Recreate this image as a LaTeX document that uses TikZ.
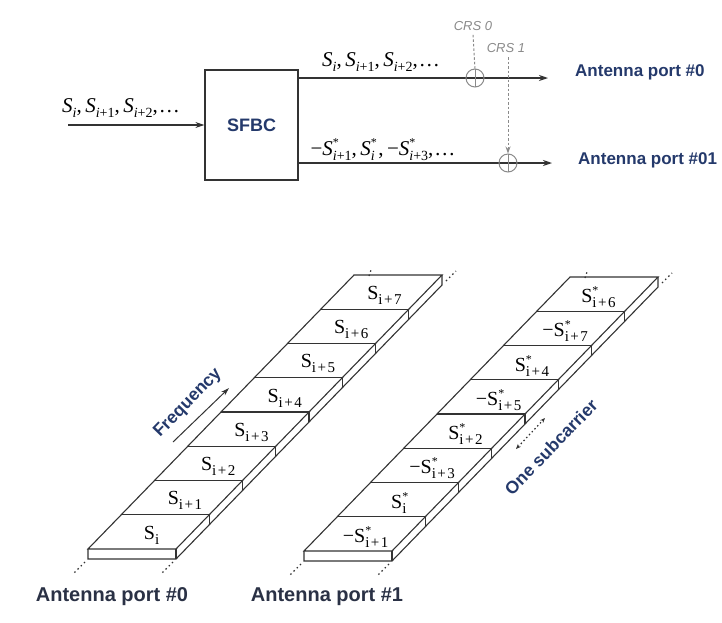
\documentclass[tikz,border=0pt]{standalone}
\usepackage{fontspec}
\setmainfont{Liberation Serif}
\setsansfont{Liberation Sans}
\usetikzlibrary{arrows.meta}
\definecolor{navy}{HTML}{24396B}
\definecolor{dnavy}{HTML}{2A3145}
\definecolor{crsgray}{HTML}{8A8A8A}
\definecolor{ln}{HTML}{333333}
% cell labels (upright)
\newcommand{\csub}[1]{\raisebox{-5pt}{\fontsize{15}{15}\selectfont #1}}
\newcommand{\cS}[1]{S\csub{#1}}
\newcommand{\cSs}[1]{S\rlap{\raisebox{8pt}{\fontsize{12}{12}\selectfont *}}\csub{#1}}
\newcommand{\ip}[1]{i\kern1.5pt+\kern1.5pt#1}
% italic labels (top)
\newcommand{\isub}[1]{\raisebox{-5pt}{\fontsize{14}{14}\selectfont #1}}
\newcommand{\iS}[1]{\textit{S}\isub{#1}}
\newcommand{\iSs}[1]{\textit{S}\rlap{\raisebox{9pt}{\fontsize{12}{12}\selectfont *}}\isub{#1}}
\newcommand{\drawSFstrip}{%
  \draw[stripline] (88,549) -- (176,549) -- (442,275) -- (354,275) -- cycle;
  \draw[stripline] (88,549) -- (88,559) -- (176,559) -- (442,285) -- (442,275);
  \draw[stripline] (176,549) -- (176,559);
  \foreach \k in {1,...,7} {
    \draw[stripline] ({88+\k*33.25},{549-\k*34.25}) -- ({176+\k*33.25},{549-\k*34.25}) -- ++(0,10);
  }
  \draw[extline] (85,562) -- (74,573);
  \draw[extline] (173,562) -- (162,573);
  \draw[extline] (446,281) -- (456,271);
  \draw[extline] (369,276) -- (371,270);
}
\tikzset{
  stripline/.style={line width=1.1pt, draw=ln, line join=miter},
  extline/.style={line width=1.2pt, draw=ln, dash pattern=on 1.5pt off 3pt},
  sig/.style={line width=1.2pt, draw=ln, -{Stealth[length=9pt,width=6pt]}},
  sumnode/.style={circle, draw=crsgray, line width=1pt, minimum size=18pt, inner sep=0pt,
    path picture={\draw[crsgray, line width=1pt] (path picture bounding box.north) -- (path picture bounding box.south);}},
  crslbl/.style={font=\sffamily\itshape\fontsize{13}{13}\selectfont, text=crsgray, inner sep=0pt},
  crsline/.style={draw=crsgray, line width=1pt, dash pattern=on 2.5pt off 2pt},
  portlbl/.style={font=\sffamily\bfseries\fontsize{17}{17}\selectfont, text=navy, inner sep=0pt, anchor=west},
  bportlbl/.style={font=\sffamily\bfseries\fontsize{20}{20}\selectfont, text=dnavy, inner sep=0pt},
  celllbl/.style={font=\fontsize{20}{20}\selectfont, inner sep=0pt},
  mathlbl/.style={font=\fontsize{21}{21}\selectfont, inner sep=0pt},
  bluelbl/.style={font=\sffamily\bfseries\fontsize{17.5}{17.5}\selectfont, text=navy, inner sep=0pt, rotate=45.85},
}
\begin{document}
\begin{tikzpicture}[x=1pt,y=-1pt]
\useasboundingbox[fill=white] (0,0) rectangle (722,622);

% ---------- top: SFBC block ----------
\node[draw=ln, line width=1.2pt, minimum width=93pt, minimum height=110pt, inner sep=0pt,
      font=\sffamily\bfseries\fontsize{18}{18}\selectfont, text=navy] (sfbc) at (251.5,125) {SFBC};
\coordinate (inp) at (68,125);
\draw[sig] (inp) -- (sfbc.west);
\node[mathlbl] (inlbl) at (121,108) {\iS{\textit{i}},\,\iS{\textit{i}+1},\,\iS{\textit{i}+2},\kern1pt\ldots};

\coordinate (o0s) at (298,78);
\coordinate (o0e) at (548,78);
\coordinate (o1s) at (298,163);
\coordinate (o1e) at (552,163);
\draw[sig] (o0s) -- (o0e);
\draw[sig] (o1s) -- (o1e);
\node[sumnode] (c0) at (475,78) {};
\node[sumnode] (c1) at (508,163) {};
\node[mathlbl] (o0lbl) at (381,62) {\iS{\textit{i}},\,\iS{\textit{i}+1},\,\iS{\textit{i}+2},\kern1pt\ldots};
\node[mathlbl] (o1lbl) at (383,150) {−\iSs{\textit{i}+1},\,\iSs{\textit{i}}\,,\,−\iSs{\textit{i}+3},\kern1pt\ldots};

\node[crslbl] (crs0) at (473,26) {CRS 0};
\node[crslbl] (crs1) at (506,48) {CRS 1};
\draw[crsline] (crs0.south) ++(0,4) -- (c0.north);
\coordinate (crs1s) at (508,57);
\draw[crsline, -{Stealth[length=7pt,width=5pt]}] (crs1s) -- (c1.north);

\node[portlbl] (ap0) at (575,72) {Antenna port \#0};
\node[portlbl] (ap01) at (578,160) {Antenna port \#01};

% ---------- bottom: strips ----------
\drawSFstrip
\begin{scope}[shift={(216,2)}]
\drawSFstrip
\end{scope}

\foreach \k/\t in {0/{\cS{i}},1/{\cS{\ip{1}}},2/{\cS{\ip{2}}},3/{\cS{\ip{3}}},4/{\cS{\ip{4}}},5/{\cS{\ip{5}}},6/{\cS{\ip{6}}},7/{\cS{\ip{7}}}} {
  \node[celllbl] (l\k) at ({135+(\k+0.5)*33.25},{549-(\k+0.5)*34.25+3}) {\t};
}
\foreach \k/\t in {0/{−\cSs{\ip{1}}},1/{\cSs{i}},2/{−\cSs{\ip{3}}},3/{\cSs{\ip{2}}},4/{−\cSs{\ip{5}}},5/{\cSs{\ip{4}}},6/{−\cSs{\ip{7}}},7/{\cSs{\ip{6}}}} {
  \node[celllbl] (r\k) at ({349+(\k+0.5)*33.25},{551-(\k+0.5)*34.25+3}) {\t};
}

\coordinate (fa) at (173,442);
\coordinate (fb) at (229,388);
\draw[line width=1pt, draw=ln, -{Stealth[length=8pt,width=5pt]}] (fa) -- (fb);
\node[bluelbl] (freq) at (188,403) {Frequency};

\coordinate (sa) at (516,449);
\coordinate (sb) at (545,418);
\draw[line width=1.2pt, draw=ln, dash pattern=on 1.5pt off 2.5pt, {Stealth[length=5pt,width=4pt]}-{Stealth[length=5pt,width=4pt]}] (sa) -- (sb);
\node[bluelbl] (subc) at (551,447) {One subcarrier};

\node[bportlbl] (bap0) at (112,597) {Antenna port \#0};
\node[bportlbl] (bap1) at (327,597) {Antenna port \#1};
\end{tikzpicture}
\end{document}
